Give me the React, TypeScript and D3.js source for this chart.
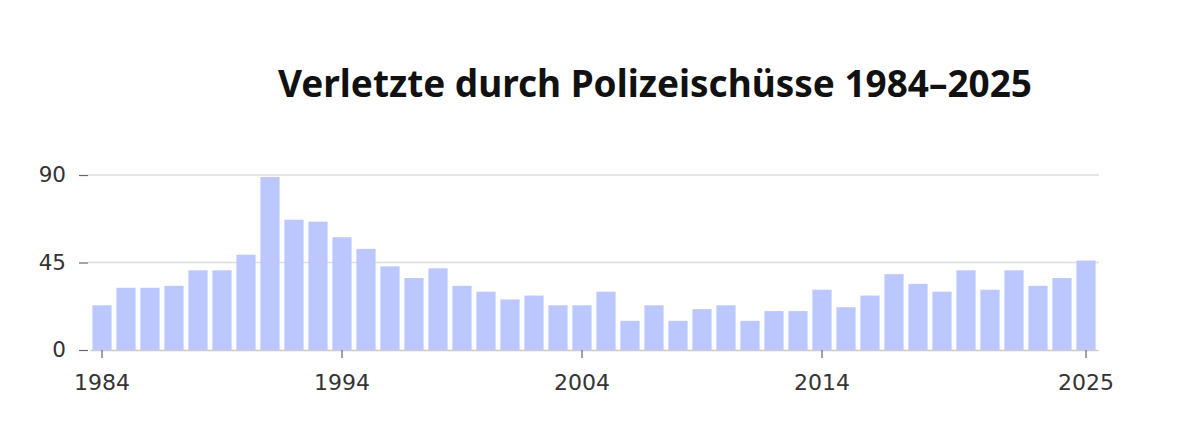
import {useEffect, useRef} from "react";
import * as d3 from "d3";

const SvgWidth = 1200;
const SvgHeight = 443;

const years = d3.range(1984, 2026);
// Verletzte je Jahr
const injured = [
    23, 32, 32, 33, 41, 41, 49, 89, 67, 66,
    58, 52, 43, 37, 42, 33, 30, 26, 28, 23,
    23, 30, 15, 23, 15, 21, 23, 15, 20, 20,
    31, 22, 28, 39, 34, 30, 41, 31, 41, 33,
    37, 46
];
const yTicks = [0, 45, 90];
const xTickYears = [1984, 1994, 2004, 2014, 2025];

const titleText = "Verletzte durch Polizeischüsse 1984–2025";
const barColor = "#bcc8fd";
const gridColor = "#dcdcdc";
const axisColor = "#cccccc";
const textColor = "#333333";
const labelFont = "'DejaVu Sans', sans-serif";

function App(){
    const xAxisRef = useRef(null);
    const yAxisRef = useRef(null);
    const barsRef = useRef(null);

    let left = 90;
    let right = 1098;
    let top = 175;
    let bottom = 350;

    const xScale = d3.scaleBand()
        .domain(years.map(String))
        .range([left, right])
        .paddingInner(0.2)
        .paddingOuter(0.1);

    const yScale = d3.scaleLinear()
        .domain([0, 90])
        .range([bottom, top]);

    useEffect(() => {
        document.body.style.margin = "0";

        let barsElm = d3.select(barsRef.current);
        barsElm.selectAll("rect")
            .data(injured)
            .join("rect")
            .attr("x", (d, i) => xScale(String(years[i])))
            .attr("y", d => yScale(d))
            .attr("width", xScale.bandwidth())
            .attr("height", d => bottom - yScale(d))
            .attr("fill", barColor);

        let yAxisElm = d3.select(yAxisRef.current);
        yAxisElm.call(
            d3.axisLeft(yScale).tickValues(yTicks).tickSize(9).tickPadding(13)
        );
        yAxisElm.select(".domain").remove();
        yAxisElm.selectAll(".tick line").attr("stroke", "#666").attr("stroke-width", 1.2);
        yAxisElm.selectAll(".tick text")
            .attr("fill", textColor)
            .style("font-family", labelFont)
            .style("font-size", "21.5px");

        let xAxisElm = d3.select(xAxisRef.current);
        xAxisElm.call(
            d3.axisBottom(xScale)
                .tickValues(xTickYears.map(String))
                .tickSize(8)
                .tickPadding(16)
                .tickSizeOuter(0)
        );
        xAxisElm.select(".domain").attr("stroke", axisColor).attr("stroke-width", 1.5);
        xAxisElm.selectAll(".tick line").attr("stroke", "#666").attr("stroke-width", 1.2);
        xAxisElm.selectAll(".tick text")
            .attr("fill", textColor)
            .style("font-family", labelFont)
            .style("font-size", "22px");
    }, [xScale, yScale])

    return (
        <svg width={SvgWidth} height={SvgHeight} style={{display: "block", background: "#fff"}}>
            <text
                x={655}
                y={97}
                textAnchor="middle"
                fontFamily="'Liberation Sans Narrow', 'Noto Sans', sans-serif"
                fontWeight="bold"
                fontSize={38}
                fill="#111"
                textLength={754}
                lengthAdjust="spacingAndGlyphs"
            >
                {titleText}
            </text>
            <g>
                {yTicks.filter(t => t > 0).map(t => (
                    <line
                        key={t}
                        x1={left - 2}
                        x2={right + 1}
                        y1={yScale(t)}
                        y2={yScale(t)}
                        stroke={gridColor}
                        strokeWidth={1.5}
                    />
                ))}
            </g>
            <g ref={barsRef}></g>
            <g ref={yAxisRef} transform={`translate(${left - 2}, 0)`}></g>
            <g ref={xAxisRef} transform={`translate(0, ${bottom})`}></g>
        </svg>
    )
}

export default App;
